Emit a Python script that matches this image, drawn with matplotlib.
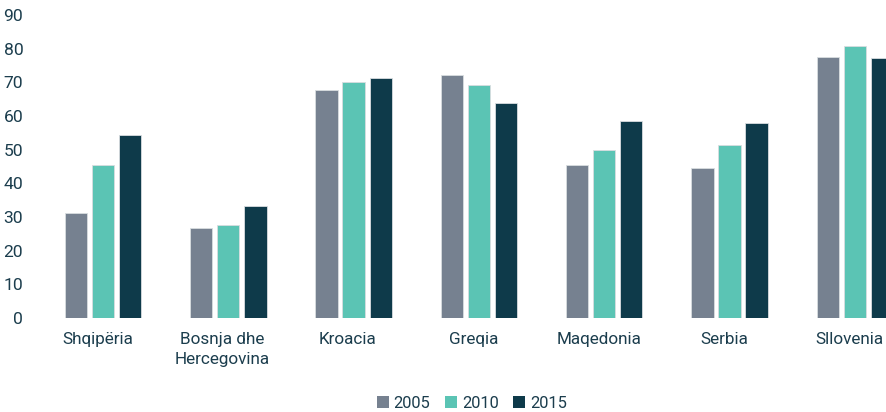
import matplotlib
matplotlib.use("Agg")
import matplotlib.pyplot as plt
import numpy as np

categories = ["Shqipëria", "Bosnja dhe\nHercegovina", "Kroacia", "Greqia", "Maqedonia", "Serbia", "Sllovenia"]
years = ["2005", "2010", "2015"]
v2005 = [31.1, 26.6, 67.8, 72.3, 45.4, 44.5, 77.6]
v2010 = [45.4, 27.5, 70.0, 69.1, 49.9, 51.3, 80.8]
v2015 = [54.3, 33.4, 71.4, 63.8, 58.4, 58.0, 77.2]
yticks = [0, 10, 20, 30, 40, 50, 60, 70, 80, 90]

colors = ["#768190", "#5bc4b4", "#0e3a4a"]
text_color = "#1b3d4d"

plt.rcParams['font.family'] = ['Roboto', 'DejaVu Sans']

fig = plt.figure(figsize=(8.87, 4.12), dpi=100)
ax = fig.add_axes([40/887, (412-318)/412, 1 - 40/887, (318-15)/412])

x = np.arange(len(categories))
step = 0.216
width = 0.178
series = [v2005, v2010, v2015]
for i, (vals, c, lab) in enumerate(zip(series, colors, years)):
    ax.bar(x + (i - 1) * step, vals, width=width, color=c, label=lab,
           edgecolor="#d9dde0", linewidth=0.6)

ax.set_ylim(0, 90)
ax.set_xlim(-0.503, 6.257)
ax.set_yticks(yticks)
ax.set_yticklabels([str(t) for t in yticks])
ax.set_xticks(x - 0.045)
ax.set_xticklabels(categories, linespacing=1.4)
ax.tick_params(axis='both', length=0, labelsize=12.3, labelcolor=text_color)
ax.tick_params(axis='y', pad=12, labelsize=12.6)
ax.tick_params(axis='x', pad=10)
for s in ax.spines.values():
    s.set_visible(False)

leg = fig.legend(loc='center', bbox_to_anchor=(472/887, 1 - 403/412), ncol=3,
                 frameon=False, handlelength=0.7, handleheight=0.7,
                 handletextpad=0.3, columnspacing=0.9, fontsize=11.9)
for t in leg.get_texts():
    t.set_color(text_color)
for h in leg.legend_handles:
    h.set_edgecolor("none")

fig.savefig("out.png", dpi=100)
